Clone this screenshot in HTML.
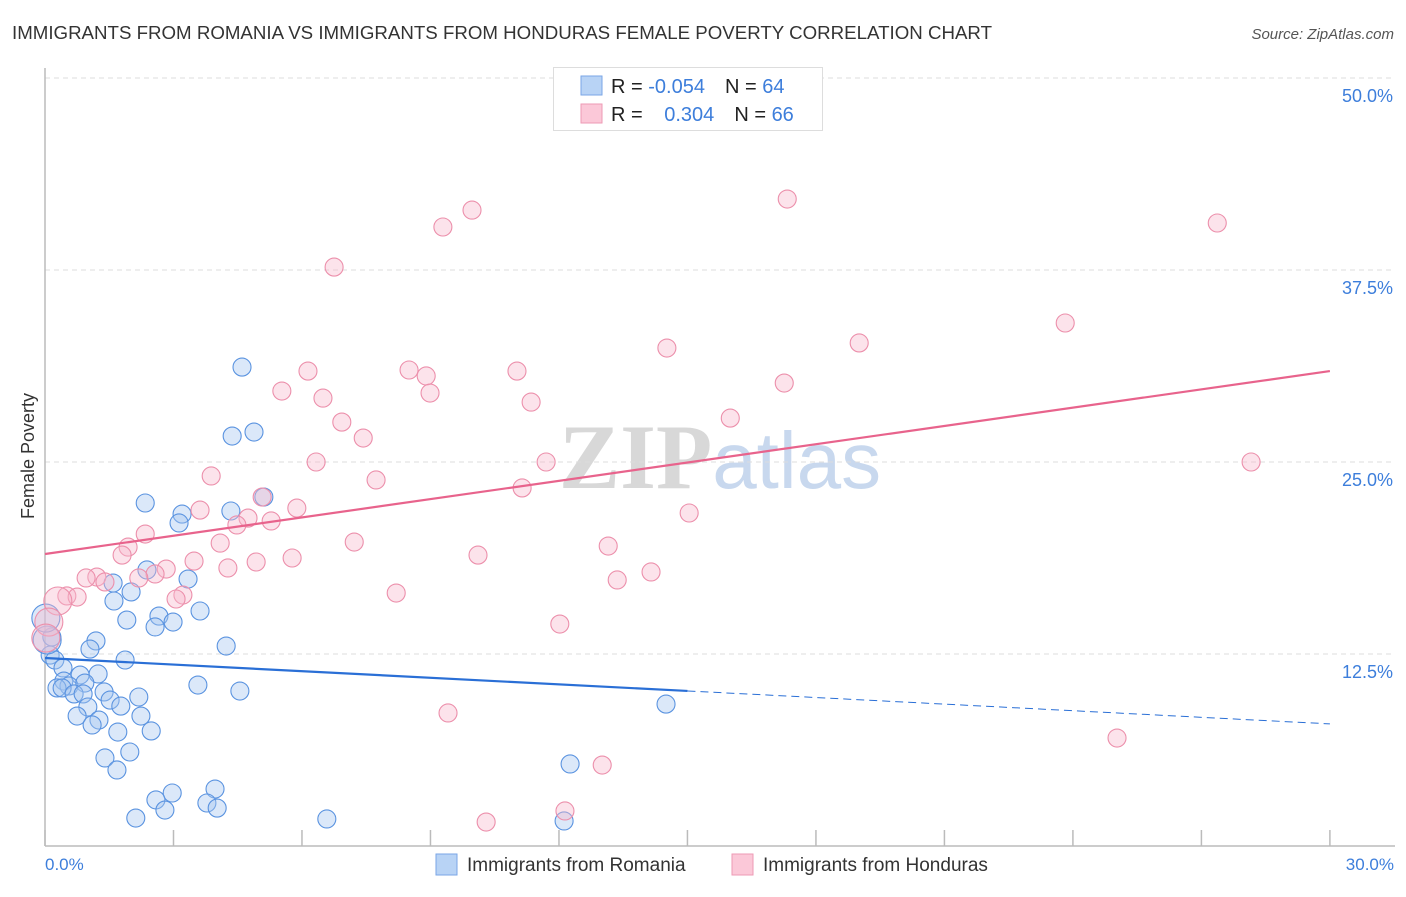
<!DOCTYPE html>
<html><head><meta charset="utf-8"><style>
body{margin:0;background:#fff;font-family:"Liberation Sans",sans-serif}
svg text{font-family:"Liberation Sans",sans-serif}
</style></head><body>
<svg id="chart" width="1406" height="892" xmlns="http://www.w3.org/2000/svg">
<text x="12" y="39" font-size="18" fill="#333" textLength="980" lengthAdjust="spacingAndGlyphs">IMMIGRANTS FROM ROMANIA VS IMMIGRANTS FROM HONDURAS FEMALE POVERTY CORRELATION CHART</text>
<text x="1394" y="39" font-size="15" fill="#555" text-anchor="end" font-style="italic">Source: ZipAtlas.com</text>
<text x="720" y="488" font-size="92" text-anchor="middle"><tspan fill="#d8d8d8" font-family="Liberation Serif" font-weight="bold">ZIP</tspan><tspan fill="#c8d8ee" font-size="80">atlas</tspan></text>
<text transform="translate(34,456) rotate(-90)" font-size="18" fill="#333" text-anchor="middle">Female Poverty</text>
<g id="grid"></g><g id="axes"></g><g id="marks"></g>
<g>
<rect x="553.5" y="67.5" width="269" height="63" fill="#fff" stroke="#ddd"/>
<rect x="581" y="76" width="21" height="19" fill="#b8d3f5" stroke="#7aa6e6"/>
<rect x="581" y="104" width="21" height="19" fill="#fbc8d8" stroke="#ee9ab4"/>
<text x="611" y="93" font-size="20" fill="#222">R = <tspan fill="#3d7edb">-0.054</tspan><tspan dx="20">N = </tspan><tspan fill="#3d7edb">64</tspan></text>
<text x="611" y="121" font-size="20" fill="#222">R = <tspan fill="#3d7edb" dx="16">0.304</tspan><tspan dx="20">N = </tspan><tspan fill="#3d7edb">66</tspan></text>
</g>
<g>
<rect x="436" y="854" width="21" height="21" fill="#b8d3f5" stroke="#7aa6e6"/>
<text x="467" y="871" font-size="19" fill="#333">Immigrants from Romania</text>
<rect x="732" y="854" width="21" height="21" fill="#fbc8d8" stroke="#ee9ab4"/>
<text x="763" y="871" font-size="19" fill="#333">Immigrants from Honduras</text>
</g>
</svg>
<script>
const blueX=[4.60,4.88,4.37,2.34,5.11,3.20,3.13,4.34,2.38,1.59,3.34,2.01,1.61,2.66,1.91,2.57,2.99,3.62,4.23,1.19,1.05,0.16,0.12,0.23,1.87,0.42,0.82,1.24,0.44,0.56,0.93,0.28,0.40,0.68,1.38,0.89,2.19,3.57,4.55,1.52,1.00,1.77,0.75,1.26,2.24,1.10,1.70,2.48,1.98,1.40,1.68,12.26,3.97,2.97,2.59,2.80,3.78,4.02,2.12,6.58,12.12,14.50,0.05,0.02];
const blueY=[31.18,26.95,26.69,22.33,22.72,21.61,21.03,21.81,17.97,17.12,17.38,16.54,15.95,14.97,14.71,14.26,14.58,15.30,13.02,13.35,12.82,13.61,12.43,12.11,12.11,11.59,11.13,11.20,10.74,10.42,10.61,10.29,10.29,9.90,10.03,9.90,9.70,10.48,10.09,9.50,9.05,9.11,8.46,8.20,8.46,7.88,7.42,7.49,6.12,5.73,4.95,5.34,3.71,3.45,3.00,2.34,2.80,2.47,1.82,1.76,1.63,9.24,13.41,14.84];
const pinkX=[9.97,9.29,17.33,27.37,6.75,23.82,14.52,19.01,6.14,8.50,8.90,11.02,17.26,5.53,6.49,8.99,11.35,6.93,7.43,16.00,6.33,11.70,28.16,3.88,7.73,11.14,5.07,5.88,15.04,3.62,4.74,4.48,5.28,2.34,7.22,4.09,13.15,1.94,1.80,5.77,10.11,4.93,3.48,4.27,2.83,2.57,1.21,0.96,1.40,2.19,14.15,13.36,3.22,3.06,8.20,0.51,0.75,0.30,12.02,0.09,0.02,9.41,25.03,13.01,12.14,10.30];
const pinkY=[41.40,40.30,42.12,40.56,37.69,34.05,32.42,32.75,30.92,30.99,30.60,30.92,30.14,29.62,29.16,29.49,28.90,27.60,26.56,27.86,25.00,25.00,25.00,24.09,23.83,23.31,22.72,22.00,21.68,21.87,21.35,20.90,21.16,20.31,19.79,19.72,19.53,19.46,18.94,18.75,18.94,18.49,18.55,18.10,18.03,17.71,17.51,17.45,17.19,17.45,17.84,17.32,16.34,16.08,16.47,16.28,16.21,15.95,14.45,14.58,13.54,8.66,7.03,5.27,2.28,1.56];
const yTicks=[12.5,25.0,37.5,50.0];
const xTicks=[0,3,6,9,12,15,18,21,24,27,30];
const blueFit=[12.24,-0.143];
const pinkFit=[19.01,0.397];
const sx=v=>45+v*42.83, sy=v=>846-v*15.36;
const NS="http://www.w3.org/2000/svg";
function mk(tag,attrs,parent){const e=document.createElementNS(NS,tag);for(const k in attrs)e.setAttribute(k,attrs[k]);document.getElementById(parent).appendChild(e);return e;}
yTicks.forEach(t=>{
 const l=mk('line',{x1:45,x2:1395,y1:sy(t),y2:sy(t),stroke:'#ddd','stroke-dasharray':'5,4'},'grid');
 
 
 const tx=mk('text',{x:1393,y:sy(t)+24,'font-size':18,fill:'#3d7edb','text-anchor':'end'},'grid');
 tx.textContent=t.toFixed(1)+'%';
 
 
});
const ax=mk('line',{x1:45,x2:45,y1:68,y2:846,stroke:'#bbb','stroke-width':1.5},'axes');


const bx=mk('line',{x1:45,x2:1395,y1:846,y2:846,stroke:'#bbb','stroke-width':1.5},'axes');


xTicks.forEach(t=>{
 const l=mk('line',{x1:sx(t),x2:sx(t),y1:830,y2:846,stroke:'#bbb','stroke-width':1.5},'axes');
 
 
});
[[0,'0.0%',45,'start'],[30,'30.0%',1394,'end']].forEach(a=>{
 const tx=mk('text',{x:a[2],y:870,'font-size':17,fill:'#3d7edb','text-anchor':a[3]},'axes');
 tx.textContent=a[1];
 
 
});
blueX.forEach((x,i)=>{
 const big=x<0.1;
 const c=mk('circle',{cx:sx(x),cy:sy(blueY[i]),r:big?14:9,fill:'rgba(165,198,240,0.4)',stroke:'#5a93e0','stroke-width':1.1},'marks');
 
 
});
pinkX.forEach((x,i)=>{
 const big=x<0.35;
 const c=mk('circle',{cx:sx(x),cy:sy(pinkY[i]),r:big?14:9,fill:'rgba(248,185,205,0.4)',stroke:'#ec8fab','stroke-width':1.1},'marks');
 
 
});
const f=(p,x)=>p[0]+p[1]*x;
const b1=mk('line',{x1:sx(0),y1:sy(f(blueFit,0)),x2:sx(15),y2:sy(f(blueFit,15)),stroke:'#2a6fd6','stroke-width':2.2},'marks');


const b2=mk('line',{x1:sx(15),y1:sy(f(blueFit,15)),x2:sx(30),y2:sy(f(blueFit,30)),stroke:'#2a6fd6','stroke-width':1,'stroke-dasharray':'8,5'},'marks');


const p1=mk('line',{x1:sx(0),y1:sy(f(pinkFit,0)),x2:sx(30),y2:sy(f(pinkFit,30)),stroke:'#e8638c','stroke-width':2.2},'marks');


</script>
</body></html>
